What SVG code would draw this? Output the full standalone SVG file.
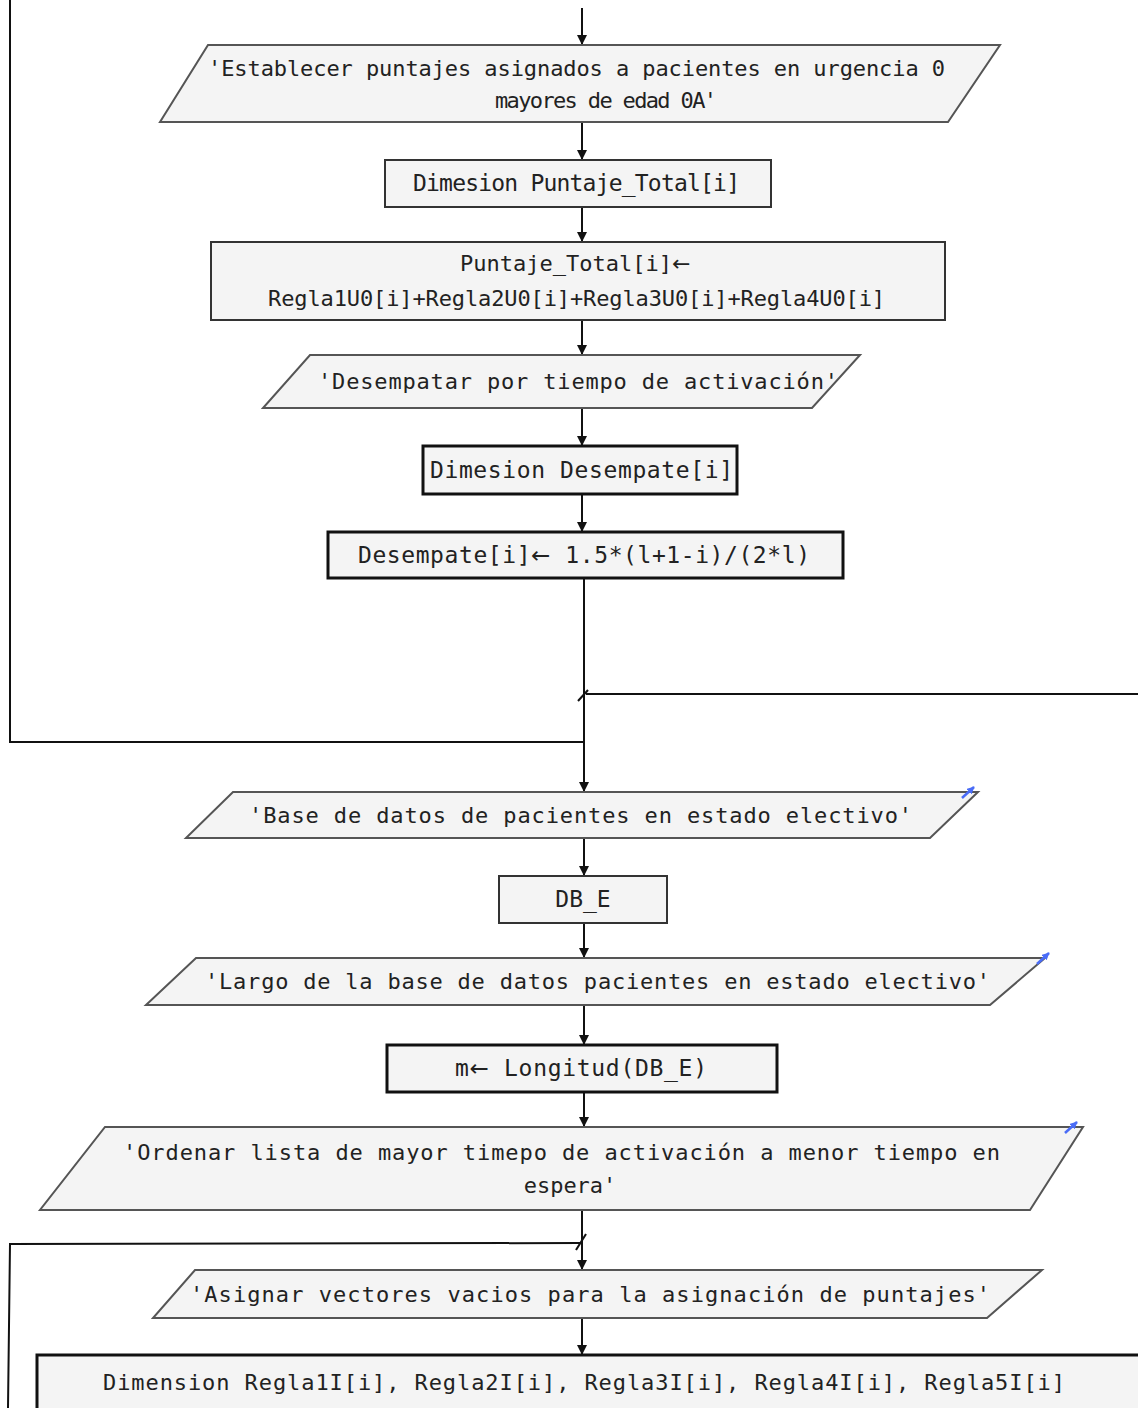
<svg xmlns="http://www.w3.org/2000/svg" width="1138" height="1408" viewBox="0 0 1138 1408">
<style>
.t{font-family:"DejaVu Sans Mono","Liberation Mono",monospace;font-size:22px;fill:#222;}
.b{font-family:"DejaVu Sans Mono","Liberation Mono",monospace;font-size:23px;fill:#222;}
.ar{font-family:"DejaVu Sans",sans-serif;}
.io{fill:#f4f4f4;stroke:#555;stroke-width:2;}
.pr{fill:#f4f4f4;stroke:#333;stroke-width:2;}
.pk{fill:#f4f4f4;stroke:#111;stroke-width:3;}
.ln{fill:none;stroke:#111;stroke-width:2;}
.bl{fill:none;stroke:#4a6cf7;stroke-width:2.5;}
</style>
<defs>
<marker id="ah" viewBox="0 0 10 10" refX="10" refY="5" markerWidth="5" markerHeight="5" orient="auto" markerUnits="strokeWidth">
<path d="M0,0 L10,5 L0,10 z" fill="#111"/>
</marker>
<marker id="bh" viewBox="0 0 10 10" refX="9" refY="5" markerWidth="3" markerHeight="3" orient="auto" markerUnits="strokeWidth">
<path d="M0,0 L10,5 L0,10 z" fill="#4a6cf7"/>
</marker>
</defs>
<g id="connectors">
<line class="ln" x1="582" y1="8" x2="582" y2="45" marker-end="url(#ah)"/>
<line class="ln" x1="582" y1="122" x2="582" y2="160" marker-end="url(#ah)"/>
<line class="ln" x1="582" y1="207" x2="582" y2="242" marker-end="url(#ah)"/>
<line class="ln" x1="582" y1="320" x2="582" y2="355" marker-end="url(#ah)"/>
<line class="ln" x1="582" y1="408" x2="582" y2="446" marker-end="url(#ah)"/>
<line class="ln" x1="582" y1="494" x2="582" y2="532" marker-end="url(#ah)"/>
<line class="ln" x1="584" y1="578" x2="584" y2="792" marker-end="url(#ah)"/>
<polyline class="ln" points="10,0 10,742 584,742"/>
<line class="ln" x1="1138" y1="694" x2="586" y2="694"/>
<line class="ln" x1="578" y1="701" x2="588" y2="690"/>
<line class="ln" x1="584" y1="838" x2="584" y2="876" marker-end="url(#ah)"/>
<line class="ln" x1="584" y1="923" x2="584" y2="958" marker-end="url(#ah)"/>
<line class="ln" x1="584" y1="1005" x2="584" y2="1045" marker-end="url(#ah)"/>
<line class="ln" x1="584" y1="1092" x2="584" y2="1127" marker-end="url(#ah)"/>
<line class="ln" x1="582" y1="1210" x2="582" y2="1270" marker-end="url(#ah)"/>
<polyline class="ln" points="580,1243 10,1244 8,1408"/>
<line class="ln" x1="576" y1="1250" x2="586" y2="1234"/>
<line class="ln" x1="582" y1="1318" x2="582" y2="1355" marker-end="url(#ah)"/>
</g>
<g id="n1">
<polygon class="io" points="208,45 1000,45 948,122 160,122"/>
<text class="t" x="208" y="76" textLength="737">'Establecer puntajes asignados a pacientes en urgencia 0</text>
<text class="t" x="495" y="108" textLength="222">mayores de edad 0A'</text>
</g>
<g id="n2">
<rect class="pr" x="385" y="160" width="386" height="47" stroke-width="1.5"/>
<text class="b" x="413" y="191" textLength="327">Dimesion Puntaje_Total[i]</text>
</g>
<g id="n3">
<rect class="pr" x="211" y="242" width="734" height="78"/>
<text class="t" x="460" y="271">Puntaje_Total[i]<tspan class="ar">←</tspan></text>
<text class="t" x="268" y="306" textLength="617">Regla1U0[i]+Regla2U0[i]+Regla3U0[i]+Regla4U0[i]</text>
</g>
<g id="n4">
<polygon class="io" points="310,355 860,355 812,408 263,408"/>
<text class="t" x="318" y="389" textLength="520">'Desempatar por tiempo de activación'</text>
</g>
<g id="n5">
<rect class="pk" x="423" y="446" width="314" height="48"/>
<text class="b" x="430" y="478" textLength="303">Dimesion Desempate[i]</text>
</g>
<g id="n6">
<rect class="pk" x="328" y="532" width="515" height="46"/>
<text class="b" x="358" y="563" textLength="452">Desempate[i]<tspan class="ar">←</tspan> 1.5*(l+1-i)/(2*l)</text>
</g>
<g id="n7">
<polygon class="io" points="233,792 978,792 930,838 186,838"/>
<text class="t" x="249" y="823" textLength="663">'Base de datos de pacientes en estado electivo'</text>
<line class="bl" x1="962" y1="798" x2="974" y2="787" marker-end="url(#bh)"/>
</g>
<g id="n8">
<rect class="pr" x="499" y="876" width="168" height="47" stroke-width="1.5"/>
<text class="b" x="583" y="907" text-anchor="middle">DB_E</text>
</g>
<g id="n9">
<polygon class="io" points="196,958 1045,958 990,1005 146,1005"/>
<text class="t" x="205" y="989" textLength="785">'Largo de la base de datos pacientes en estado electivo'</text>
<line class="bl" x1="1037" y1="964" x2="1049" y2="953" marker-end="url(#bh)"/>
</g>
<g id="n10">
<rect class="pk" x="387" y="1045" width="390" height="47"/>
<text class="b" x="455" y="1076" textLength="252">m<tspan class="ar">←</tspan> Longitud(DB_E)</text>
</g>
<g id="n11">
<polygon class="io" points="105,1127 1083,1127 1030,1210 40,1210"/>
<text class="t" x="123" y="1160" textLength="877">'Ordenar lista de mayor timepo de activación a menor tiempo en</text>
<text class="t" x="570" y="1193" text-anchor="middle">espera'</text>
<line class="bl" x1="1065" y1="1133" x2="1077" y2="1122" marker-end="url(#bh)"/>
</g>
<g id="n12">
<polygon class="io" points="195,1270 1042,1270 987,1318 153,1318"/>
<text class="t" x="190" y="1302" textLength="800">'Asignar vectores vacios para la asignación de puntajes'</text>
</g>
<g id="n13">
<rect class="pk" x="37" y="1355" width="1110" height="70"/>
<text class="t" x="103" y="1390" textLength="962">Dimension Regla1I[i], Regla2I[i], Regla3I[i], Regla4I[i], Regla5I[i]</text>
</g>
</svg>
